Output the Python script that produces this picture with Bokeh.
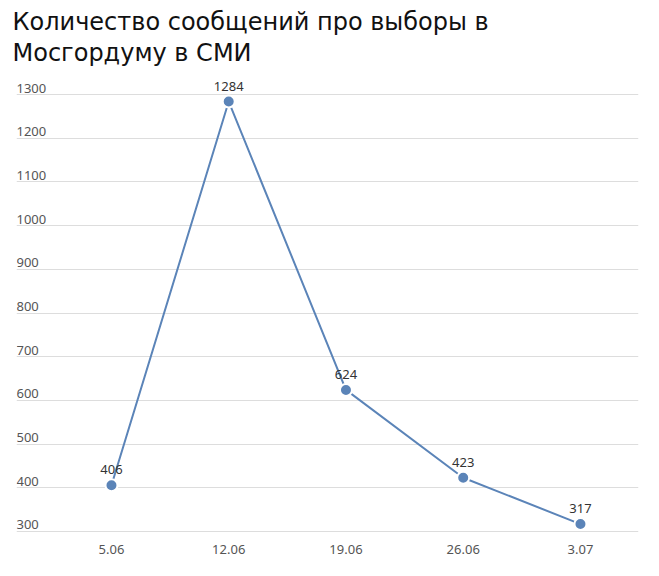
from bokeh.plotting import figure
from bokeh.models import Title, FixedTicker, ColumnDataSource, Range1d
from bokeh.core.properties import value
from bokeh.embed import file_html
from bokeh.resources import INLINE

title_lines = ["Количество сообщений про выборы в", "Мосгордуму в СМИ"]
dates = ["5.06", "12.06", "19.06", "26.06", "3.07"]
counts = [406, 1284, 624, 423, 317]
y_ticks = [300, 400, 500, 600, 700, 800, 900, 1000, 1100, 1200, 1300]

LINE = "#5b84b8"
FONT = "Noto Sans"

xs = list(range(len(dates)))
p = figure(width=651, height=568, output_backend="svg", toolbar_location=None,
           x_range=Range1d(-0.81, 4.495), y_range=Range1d(295.4, 1348.2),
           min_border_left=16, min_border_right=13, min_border_bottom=35)
p.title = None
p.add_layout(Title(text="\n".join(title_lines), text_font="DejaVu Sans", text_font_size="24px",
                   text_font_style="normal", text_color="#111111", align="left", offset=-4,
                   text_line_height=1.12, standoff=12), "above")

p.outline_line_color = None
p.xgrid.grid_line_color = None
p.ygrid.ticker = FixedTicker(ticks=y_ticks)
p.ygrid.grid_line_color = "#dddddd"
p.yaxis.visible = False

p.xaxis.ticker = FixedTicker(ticks=xs)
p.xaxis.major_label_overrides = {i: d for i, d in enumerate(dates)}
p.xaxis.axis_line_color = None
p.xaxis.major_tick_line_color = None
p.xaxis.minor_tick_line_color = None
p.xaxis.major_label_standoff = 5
p.xaxis.major_label_text_font = FONT
p.xaxis.major_label_text_font_size = "13px"
p.xaxis.major_label_text_color = "#555555"

# y tick labels drawn above gridlines
tsrc = ColumnDataSource(dict(x=[-0.81] * len(y_ticks), y=y_ticks, t=[str(v) for v in y_ticks]))
p.text("x", "y", text="t", source=tsrc, text_font=value(FONT), text_font_size="13px",
       text_color="#555555", text_baseline="bottom", text_align="left", y_offset=-2)

src = ColumnDataSource(dict(x=xs, y=counts, t=[str(c) for c in counts]))
p.line("x", "y", source=src, line_color=LINE, line_width=2)
p.scatter("x", "y", source=src, size=12, fill_color=LINE, line_color="white", line_width=2)
p.text("x", "y", text="t", source=src, text_font=value(FONT), text_font_size="13px",
       text_color="#333333", text_baseline="bottom", text_align="center", y_offset=-11)

open("out.html", "w").write(file_html(p, INLINE))
